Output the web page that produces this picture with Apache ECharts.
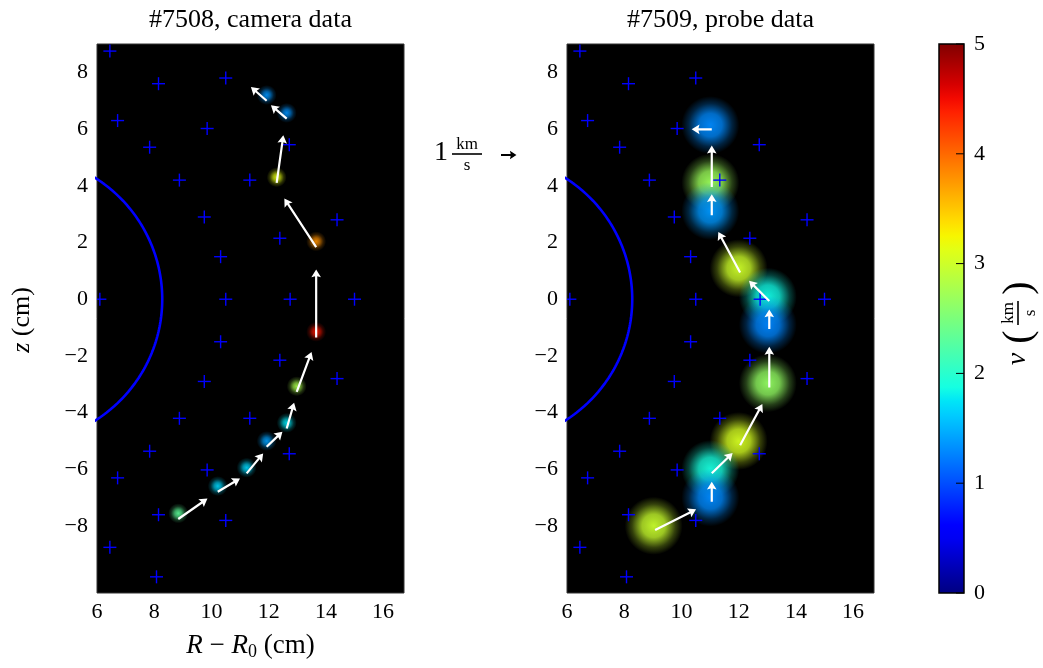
<!DOCTYPE html>
<html>
<head>
<meta charset="utf-8">
<script src="https://cdn.jsdelivr.net/npm/echarts@6/dist/echarts.min.js"></script>
<style>
  html, body { margin: 0; padding: 0; background: #fff; }
  #chart { width: 1043px; height: 668px; }
</style>
</head>
<body>
<div id="chart"></div>
<script>
// Probe positions in the poloidal plane (cm)
const probeR = [6.45, 8.15, 10.5, 6.72, 9.85, 7.84, 12.72, 8.88, 11.34, 9.75, 14.39, 12.39, 10.32,
                6.1, 10.5, 12.75, 15.0,
                10.32, 12.39, 9.75, 14.39, 8.88, 11.34, 7.84, 12.72, 6.72, 9.85, 8.15, 10.5, 6.45, 8.08];
const probeZ = [8.75, 7.6, 7.8, 6.3, 6.02, 5.36, 5.45, 4.2, 4.2, 2.9, 2.8, 2.15, 1.5,
                0, 0, 0, 0,
                -1.5, -2.15, -2.9, -2.8, -4.2, -4.2, -5.36, -5.45, -6.3, -6.02, -7.6, -7.8, -8.75, -9.79];

// #7508 camera data: vector positions (cm) and velocity components (km/s)
const camR  = [11.93, 12.63, 12.28, 13.66, 13.66, 12.98, 12.63, 11.93, 11.23, 10.22, 8.84];
const camZ  = [7.0, 6.37, 4.1, 1.84, -1.35, -3.27, -4.56, -5.2, -6.14, -6.79, -7.75];
const camVR = [-1.02, -1.02, 0.43, -2.06, 0.0, 0.96, 0.48, 1.02, 1.07, 1.44, 1.89];
const camVZ = [0.89, 0.87, 3.11, 3.17, 4.44, 2.61, 1.69, 0.98, 1.30, 0.87, 1.33];

// #7509 probe data: vector positions (cm) and velocity components (km/s)
const prbR  = [11.06, 11.06, 11.06, 12.05, 13.07, 13.07, 13.07, 12.05, 11.06, 11.06, 9.08];
const prbZ  = [5.99, 3.96, 2.96, 0.94, -0.06, -1.05, -3.11, -5.15, -6.14, -7.14, -8.14];
const prbVR = [-1.30, 0.0, 0.0, -1.41, -1.31, 0.0, 0.0, 1.44, 1.35, 0.0, 2.65];
const prbVZ = [0.0, 2.70, 1.37, 2.65, 1.31, 1.28, 2.65, 2.69, 1.33, 1.30, 1.35];

// Tick labels
const xTicks  = [6, 8, 10, 12, 14, 16];
const zTicks  = [-8, -6, -4, -2, 0, 2, 4, 6, 8];
const cbTicks = [0, 1, 2, 3, 4, 5];

// Separatrix circle (cm)
const circleR0 = 3.2;
const circleRadius = 5.08;

// Geometry / style constants
const VEC_SCALE = 0.54;   // cm of arrow per km/s
const V_MAX = 5;
const FONT = "'Liberation Serif', 'DejaVu Serif', serif";

function lerpTable(t, tab) {
  for (let i = 1; i < tab.length; i++) {
    if (t <= tab[i][0]) {
      const a = tab[i - 1], b = tab[i];
      return a[1] + (b[1] - a[1]) * (t - a[0]) / (b[0] - a[0]);
    }
  }
  return tab[tab.length - 1][1];
}
function jet(t) {
  t = Math.max(0, Math.min(1, t));
  const r = lerpTable(t, [[0, 0], [0.35, 0], [0.66, 1], [0.89, 1], [1, 0.5]]);
  const g = lerpTable(t, [[0, 0], [0.125, 0], [0.375, 1], [0.64, 1], [0.91, 0], [1, 0]]);
  const b = lerpTable(t, [[0, 0.5], [0.11, 1], [0.34, 1], [0.65, 0], [1, 0]]);
  return [Math.round(r * 255), Math.round(g * 255), Math.round(b * 255)];
}
function rgba(c, a) { return 'rgba(' + c[0] + ',' + c[1] + ',' + c[2] + ',' + a + ')'; }

function rows(R, Z, VR, VZ) { return R.map((r, i) => [r, Z[i], VR[i], VZ[i]]); }

function circlePoints() {
  const pts = [];
  for (let a = -90; a <= 90; a += 1) {
    const t = a * Math.PI / 180;
    pts.push([circleR0 + circleRadius * Math.cos(t), circleRadius * Math.sin(t)]);
  }
  return pts;
}

function arrowPoints(p0, p1, hw, hh, hl, ha) {
  const dx = p1[0] - p0[0], dy = p1[1] - p0[1];
  const L = Math.hypot(dx, dy) || 1;
  const ux = dx / L, uy = dy / L, nx = -uy, ny = ux;
  const pt = (s, t) => [p0[0] + ux * s + nx * t, p0[1] + uy * s + ny * t];
  return [pt(0, hw), pt(L - ha, hw), pt(L - hl, hh), pt(L, 0), pt(L - hl, -hh), pt(L - ha, -hw), pt(0, -hw)];
}

// Glowing speed spots (colour = |v| on the jet scale)
function spotSeries(gi, data, radius, dR, dZ, stops) {
  return {
    type: 'custom', xAxisIndex: gi, yAxisIndex: gi, clip: true, z: 2,
    data: data,
    renderItem: function (params, api) {
      const p = api.coord([api.value(0) + dR, api.value(1) + dZ]);
      const sp = Math.hypot(api.value(2), api.value(3));
      const c = jet(sp / V_MAX);
      return {
        type: 'circle',
        shape: { cx: p[0], cy: p[1], r: radius },
        style: {
          fill: {
            type: 'radial', x: 0.5, y: 0.5, r: 0.5,
            colorStops: stops.map(s => ({ offset: s[0], color: rgba(c, s[1]) }))
          }
        }
      };
    }
  };
}

function probeSeries(gi) {
  return {
    type: 'custom', xAxisIndex: gi, yAxisIndex: gi, clip: true, z: 3,
    data: probeR.map((r, i) => [r, probeZ[i]]),
    renderItem: function (params, api) {
      const p = api.coord([api.value(0), api.value(1)]);
      const h = 6.5;
      const st = { stroke: '#0000ff', lineWidth: 1.4 };
      return {
        type: 'group',
        children: [
          { type: 'line', shape: { x1: p[0] - h, y1: p[1], x2: p[0] + h, y2: p[1] }, style: st },
          { type: 'line', shape: { x1: p[0], y1: p[1] - h, x2: p[0], y2: p[1] + h }, style: st }
        ]
      };
    }
  };
}

function circleSeries(gi) {
  return {
    type: 'line', xAxisIndex: gi, yAxisIndex: gi, clip: true, z: 4,
    data: circlePoints(), showSymbol: false, symbol: 'none', silent: true,
    lineStyle: { color: '#0000ff', width: 2.6 }
  };
}

function arrowSeries(gi, data) {
  return {
    type: 'custom', xAxisIndex: gi, yAxisIndex: gi, clip: true, z: 5,
    data: data,
    renderItem: function (params, api) {
      const r = api.value(0), z = api.value(1);
      const p0 = api.coord([r, z]);
      const p1 = api.coord([r + api.value(2) * VEC_SCALE, z + api.value(3) * VEC_SCALE]);
      return {
        type: 'polygon',
        shape: { points: arrowPoints(p0, p1, 1.1, 4.8, 7.8, 6.8) },
        style: { fill: '#ffffff' }
      };
    }
  };
}

const labelStyle = { fontFamily: FONT, fontSize: 22, color: '#000' };
const minus = v => (v < 0 ? '\u2212' + (-v) : String(v));

function xAx(gi) {
  return {
    gridIndex: gi, type: 'value', min: 6, max: 16.73, interval: 2,
    axisLine: { show: false }, axisTick: { show: false }, splitLine: { show: false },
    axisLabel: Object.assign({ margin: 8, customValues: xTicks }, labelStyle)
  };
}
function yAx(gi) {
  return {
    gridIndex: gi, type: 'value', min: -10.36, max: 9.0,
    axisLine: { show: false }, axisTick: { show: false }, splitLine: { show: false },
    axisLabel: Object.assign({ margin: 9, customValues: zTicks, formatter: minus }, labelStyle)
  };
}

const chart = echarts.init(document.getElementById('chart'), null, { renderer: 'canvas' });

const gridBox = { top: 44, width: 307, height: 549, show: true, backgroundColor: '#000', borderColor: '#333', borderWidth: 1 };

chart.setOption({
  animation: false,
  backgroundColor: '#fff',
  grid: [
    Object.assign({ left: 97 }, gridBox),
    Object.assign({ left: 567 }, gridBox),
    { left: 939, top: 44, width: 25, height: 549, show: false }
  ],
  xAxis: [xAx(0), xAx(1), { gridIndex: 2, type: 'value', min: 0, max: 1, show: false }],
  yAxis: [
    yAx(0), yAx(1),
    {
      gridIndex: 2, type: 'value', min: 0, max: V_MAX, interval: 1, position: 'right',
      axisLine: { show: false }, splitLine: { show: false }, axisTick: { show: false },
      axisLabel: Object.assign({ margin: 10, customValues: cbTicks }, labelStyle)
    }
  ],
  series: [
    spotSeries(0, rows(camR, camZ, camVR, camVZ), 10, 0, 0.2,
      [[0, 0.9], [0.35, 0.65], [0.7, 0.2], [1, 0]]),
    spotSeries(1, rows(prbR, prbZ, prbVR, prbVZ), 29, -0.05, 0.15,
      [[0, 0.95], [0.4, 0.78], [0.75, 0.25], [1, 0]]),
    probeSeries(0), probeSeries(1),
    circleSeries(0), circleSeries(1),
    arrowSeries(0, rows(camR, camZ, camVR, camVZ)),
    arrowSeries(1, rows(prbR, prbZ, prbVR, prbVZ)),
    {
      // colour bar: jet gradient, frame and inward ticks
      type: 'custom', xAxisIndex: 2, yAxisIndex: 2, z: 2,
      data: [[0, 0]],
      renderItem: function (params, api) {
        const a = api.coord([0, 0]), b = api.coord([1, V_MAX]);
        const stops = [];
        for (let i = 0; i <= 40; i++) stops.push({ offset: i / 40, color: rgba(jet(i / 40), 1) });
        const children = [{
          type: 'rect',
          shape: { x: a[0], y: b[1], width: b[0] - a[0], height: a[1] - b[1] },
          style: {
            fill: { type: 'linear', x: 0, y: 1, x2: 0, y2: 0, colorStops: stops },
            stroke: '#000', lineWidth: 1.5
          }
        }];
        cbTicks.forEach(v => {
          const y = api.coord([1, v])[1];
          children.push({ type: 'line', shape: { x1: b[0], y1: y, x2: b[0] - 8, y2: y }, style: { stroke: '#000', lineWidth: 1 } });
        });
        return { type: 'group', children: children };
      }
    }
  ]
});

// Annotations: titles, axis names, quiver key, colour bar label
const p0 = chart.convertToPixel({ gridIndex: 0 }, [6, 0]);
const p1 = chart.convertToPixel({ gridIndex: 0 }, [6 + VEC_SCALE, 0]);
const keyLen = p1[0] - p0[0];
const keyTail = [501, 155];

function txt(x, y, text, size, extra) {
  return {
    type: 'text', x: x, y: y, silent: true,
    style: Object.assign({
      text: text, fontFamily: FONT, fontSize: size, fill: '#000',
      textAlign: 'center', textVerticalAlign: 'middle'
    }, extra || {})
  };
}

chart.setOption({
  graphic: [
    txt(250.5, 20, '#7508, camera data', 26),
    txt(720.5, 20, '#7509, probe data', 26),
    txt(250.5, 646, '{i|R} \u2212 {i|R}{s|0} (cm)', 27, {
      rich: {
        i: { fontStyle: 'italic', fontFamily: FONT, fontSize: 27, lineHeight: 30 },
        s: { fontFamily: FONT, fontSize: 18, lineHeight: 18, verticalAlign: 'bottom' }
      }
    }),
    {
      type: 'text', x: 22, y: 320, rotation: Math.PI / 2, silent: true,
      style: {
        text: '{i|z} (cm)', fontFamily: FONT, fontSize: 26, fill: '#000',
        textAlign: 'center', textVerticalAlign: 'middle',
        rich: { i: { fontStyle: 'italic', fontFamily: FONT, fontSize: 26 } }
      }
    },
    // quiver key
    txt(441, 153, '1', 28),
    txt(467, 145, 'km', 17),
    { type: 'line', silent: true, shape: { x1: 452, y1: 154, x2: 482, y2: 154 }, style: { stroke: '#000', lineWidth: 1.6 } },
    txt(467, 166, 's', 17),
    {
      type: 'polygon', silent: true,
      shape: { points: arrowPoints(keyTail, [keyTail[0] + keyLen, keyTail[1]], 0.9, 4.2, 6.5, 5.8) },
      style: { fill: '#000' }
    },
    // colour bar label, rotated
    {
      type: 'group', x: 1020, y: 313, rotation: Math.PI / 2, silent: true,
      children: [
        txt(-46, -2, 'v', 28, { fontStyle: 'italic' }),
        txt(-24, -1, '(', 40),
        txt(0, -11, 'km', 17),
        { type: 'line', shape: { x1: -12, y1: -2, x2: 12, y2: -2 }, style: { stroke: '#000', lineWidth: 1.6 } },
        txt(0, 11, 's', 17),
        txt(25, -1, ')', 40)
      ]
    }
  ]
});
</script>
</body>
</html>
